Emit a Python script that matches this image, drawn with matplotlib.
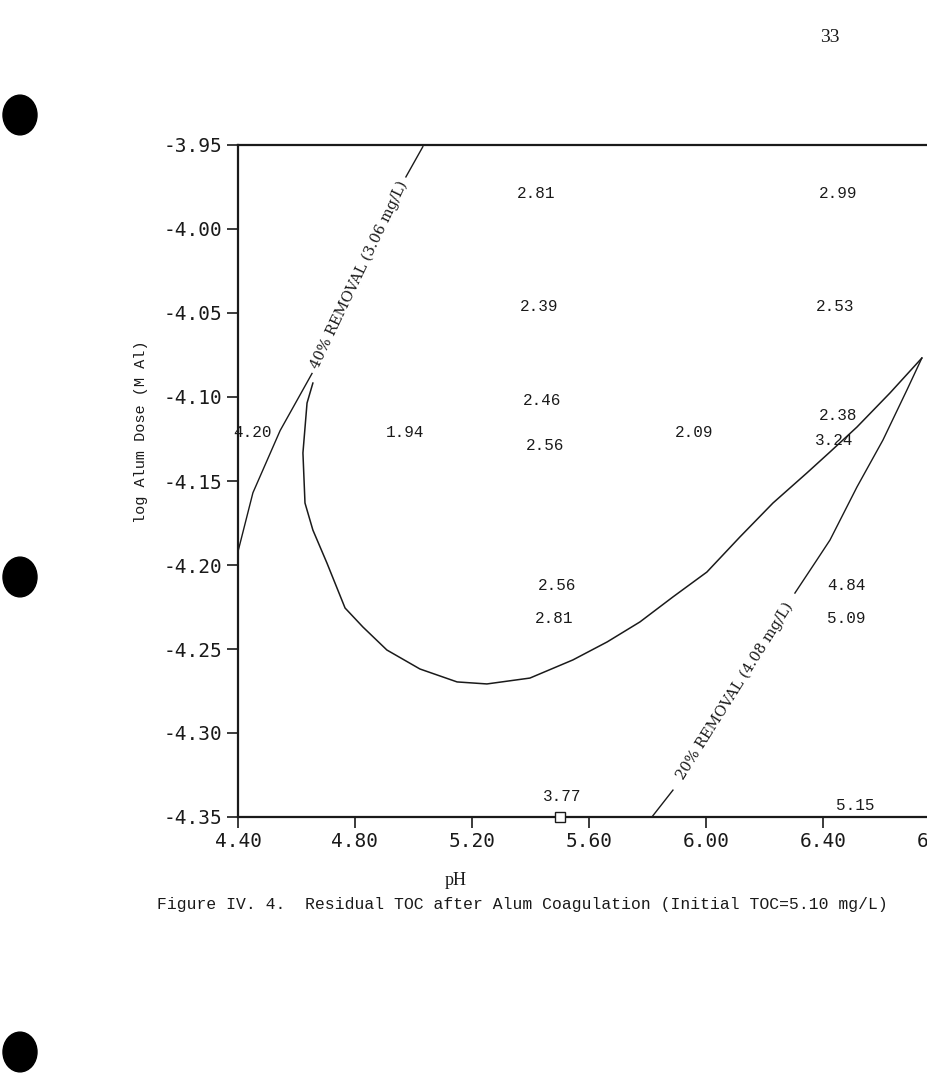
import numpy as np
import matplotlib
matplotlib.use('Agg')
import matplotlib.pyplot as plt
from matplotlib.patches import Circle

plt.rcParams['axes.unicode_minus'] = False

# === Boundary curves (pH, log alum dose) ===
inner_ph = [4.656, 4.636, 4.622, 4.629, 4.656, 4.704, 4.766, 4.827, 4.909, 5.022,
            5.149, 5.251, 5.398, 5.545, 5.662, 5.774, 5.887, 6.003, 6.116, 6.229,
            6.345, 6.424, 6.516, 6.629, 6.738]
inner_dose = [-4.0917, -4.1036, -4.1333, -4.1631, -4.1792, -4.1988, -4.2256, -4.2369,
              -4.2506, -4.2619, -4.2696, -4.2708, -4.2673, -4.2565, -4.2458, -4.2339,
              -4.2190, -4.2042, -4.1833, -4.1631, -4.1452, -4.1327, -4.1179, -4.0976,
              -4.0768]

# 40% removal line (3.06 mg/L), two pieces either side of its label
r40_upper_ph = [5.032, 4.974]
r40_upper_dose = [-3.951, -3.969]
r40_lower_ph = [4.653, 4.544, 4.451, 4.400]
r40_lower_dose = [-4.086, -4.120, -4.157, -4.192]

# 20% removal line (4.08 mg/L)
r20_lower_ph = [5.815, 5.887]
r20_lower_dose = [-4.350, -4.334]
r20_upper_ph = [6.304, 6.379, 6.424, 6.516, 6.605, 6.687, 6.738]
r20_upper_dose = [-4.2167, -4.1970, -4.1851, -4.1536, -4.1256, -4.0958, -4.0768]

# === Residual TOC values written on the plot ===
toc_ph = [5.42, 6.45, 5.43, 6.44, 5.44, 5.45, 4.45, 4.97, 5.96, 6.45, 6.44,
          5.49, 5.48, 6.48, 6.48, 5.51, 6.51]
toc_dose = [-3.979, -3.979, -4.046, -4.046, -4.102, -4.129, -4.121, -4.121, -4.121,
            -4.111, -4.126, -4.212, -4.232, -4.212, -4.232, -4.338, -4.343]
toc_text = ['2.81', '2.99', '2.39', '2.53', '2.46', '2.56', '4.20', '1.94', '2.09',
            '2.38', '3.24', '2.56', '2.81', '4.84', '5.09', '3.77', '5.15']

marker_ph = [5.50]
marker_dose = [-4.35]

x_ticks = [4.40, 4.80, 5.20, 5.60, 6.00, 6.40, 6.80]
y_ticks = [-3.95, -4.00, -4.05, -4.10, -4.15, -4.20, -4.25, -4.30, -4.35]

W, H = 927, 1083
fig = plt.figure(figsize=(W / 100, H / 100), dpi=100)
fig.patch.set_facecolor('white')

# axes placed in pixel terms to match the scanned page
ax_left, ax_bottom_px, ax_top_px = 238, 817, 145
ax_w_px = 2.4 * 292.5
ax = fig.add_axes([ax_left / W, 1 - ax_bottom_px / H, ax_w_px / W, (ax_bottom_px - ax_top_px) / H])
ax.set_xlim(4.40, 6.80)
ax.set_ylim(-4.35, -3.95)
ax.set_facecolor('none')

ink = '#1a1a1a'
ax.plot(inner_ph, inner_dose, color=ink, lw=1.1)
ax.plot(r40_upper_ph, r40_upper_dose, color=ink, lw=1.0)
ax.plot(r40_lower_ph, r40_lower_dose, color=ink, lw=1.0)
ax.plot(r20_lower_ph, r20_lower_dose, color=ink, lw=1.0)
ax.plot(r20_upper_ph, r20_upper_dose, color=ink, lw=1.0)
ax.plot(marker_ph, marker_dose, 's', mfc='white', mec=ink, ms=7, mew=1.0, clip_on=False, zorder=5)

for px, dy, t in zip(toc_ph, toc_dose, toc_text):
    ax.text(px, dy, t, ha='center', va='center', fontsize=11.5,
            family='Liberation Mono', color=ink)

ax.text(4.814, -4.0274, '40% REMOVAL (3.06 mg/L)', rotation=64.4, rotation_mode='anchor',
        ha='center', va='center', fontsize=10.5, family='DejaVu Serif', color=ink)
ax.text(6.099, -4.275, '20% REMOVAL (4.08 mg/L)', rotation=57.8, rotation_mode='anchor',
        ha='center', va='center', fontsize=10.5, family='DejaVu Serif', color=ink)

for s in ['left', 'bottom', 'top']:
    ax.spines[s].set_linewidth(1.6)
    ax.spines[s].set_color(ink)
ax.spines['right'].set_visible(False)

ax.set_xticks(x_ticks)
ax.set_xticklabels(['%.2f' % v for v in x_ticks])
ax.set_yticks(y_ticks)
ax.set_yticklabels(['%.2f' % v for v in y_ticks])
ax.tick_params(direction='out', length=8, width=1.2, colors=ink, pad=3)
for lab in ax.get_xticklabels() + ax.get_yticklabels():
    lab.set_fontfamily('DejaVu Sans Mono')
    lab.set_fontsize(14)

ax.set_ylabel('log Alum Dose (M Al)', fontsize=11, family='Liberation Mono', color=ink)
ax.yaxis.set_label_coords((148 - ax_left) / ax_w_px, (ax_bottom_px - 432) / (ax_bottom_px - ax_top_px))
ax.set_xlabel('pH', fontsize=13, family='Liberation Serif', color=ink)
ax.xaxis.set_label_coords((456 - ax_left) / ax_w_px, (ax_bottom_px - 872) / (ax_bottom_px - ax_top_px))

fig.text(157 / W, 1 - 905 / H,
         'Figure IV. 4.  Residual TOC after Alum Coagulation (Initial TOC=5.10 mg/L)',
         ha='left', va='center', fontsize=11.8, family='Liberation Mono', color=ink)
fig.text(830 / W, 1 - 38 / H, '33', ha='center', va='center', fontsize=14,
         family='Liberation Serif', color=ink)

# binder holes of the scanned page
for cy in [115, 577, 1052]:
    fig.patches.append(Circle((20 / W, 1 - cy / H), 17 / W, transform=fig.transFigure,
                              color='black', zorder=10))

fig.savefig('out.png', dpi=100, facecolor='white')
